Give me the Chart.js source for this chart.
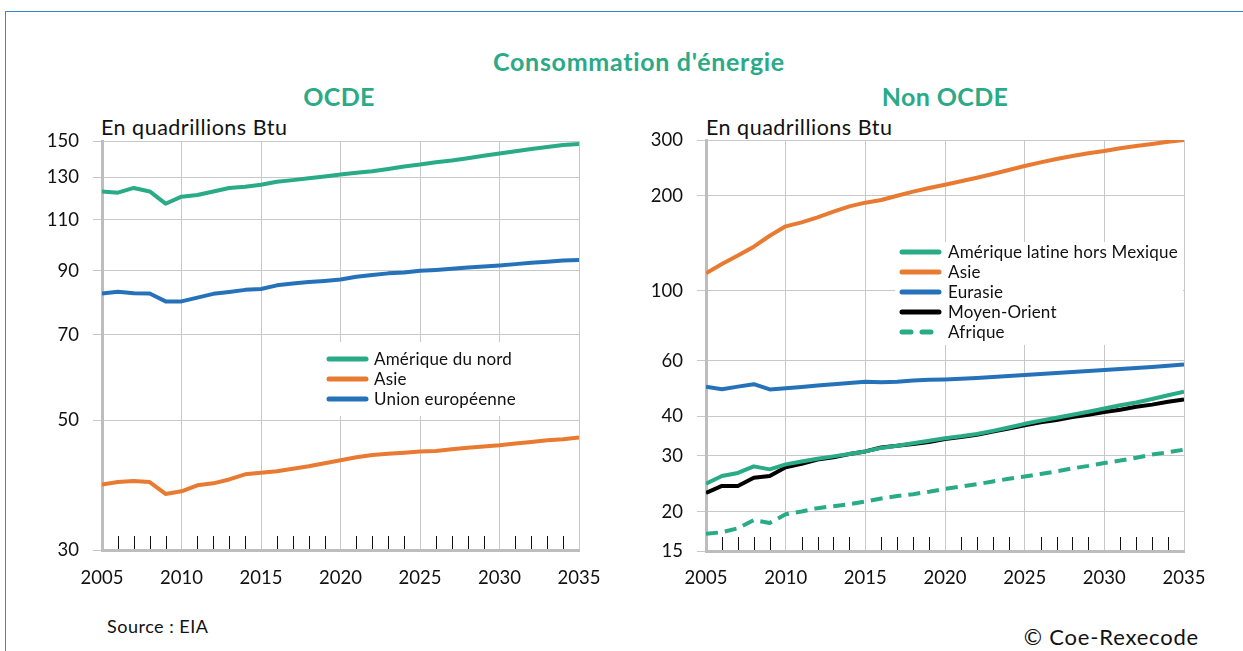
<!DOCTYPE html>
<html lang="fr">
<head>
<meta charset="utf-8">
<title>Consommation d'énergie</title>
<script src="https://cdn.jsdelivr.net/npm/chart.js@4.4.1/dist/chart.umd.min.js"></script>
<style>
  html, body { margin:0; padding:0; background:#fff; }
  body { width:1243px; height:651px; position:relative; overflow:hidden; font-family:Lato, "Open Sans", sans-serif; color:#111; }
  #frame { position:absolute; left:5px; top:11px; width:1400px; height:800px; border-top:1px solid #3a87d0; border-left:1px solid #3a87d0; }
  .t { position:absolute; white-space:nowrap; }
  .title { left:339px; width:600px; top:46px; text-align:center; font-weight:700; font-size:25px; letter-spacing:0.7px; line-height:30px; color:#2aaa86; }
  .sub { font-weight:700; font-size:25px; letter-spacing:0.4px; line-height:28px; color:#2aaa86; text-align:center; width:300px; top:82px; }
  .unit { font-size:21.5px; letter-spacing:0.5px; line-height:24px; top:115px; color:#111; }
  .src { left:107px; top:614px; font-size:18px; letter-spacing:0.5px; line-height:24px; }
  .copy { right:44px; top:624px; font-size:22px; letter-spacing:0.8px; line-height:26px; }
  canvas { position:absolute; }
</style>
</head>
<body>
<div id="frame"></div>
<div class="t title">Consommation d'énergie</div>
<div class="t sub" style="left:189px;">OCDE</div>
<div class="t sub" style="left:795px;">Non OCDE</div>
<div class="t unit" style="left:101px;">En quadrillions Btu</div>
<div class="t unit" style="left:706px;">En quadrillions Btu</div>
<div class="t src">Source : EIA</div>
<div class="t copy">© Coe-Rexecode</div>

<canvas id="c1" width="620" height="520" style="left:0px; top:100px;"></canvas>
<canvas id="c2" width="623" height="520" style="left:620px; top:100px;"></canvas>

<script>
// ---------- DATA ----------
const YEARS = [2005,2006,2007,2008,2009,2010,2011,2012,2013,2014,2015,2016,2017,2018,2019,2020,
               2021,2022,2023,2024,2025,2026,2027,2028,2029,2030,2031,2032,2033,2034,2035];

// OCDE (quadrillions Btu)
const OCDE_LABELS = ["Amérique du nord", "Asie", "Union européenne"];
const OCDE_AMERIQUE_NORD = [123.0,122.4,124.7,123.0,117.2,120.5,121.3,123.0,124.7,125.3,126.3,127.8,128.6,129.5,130.5,131.5,
                            132.4,133.2,134.4,135.7,136.7,138.0,138.9,140.2,141.5,142.8,144.1,145.4,146.5,147.7,148.3];
const OCDE_ASIE = [38.8,39.2,39.35,39.2,37.4,37.8,38.7,39.0,39.6,40.4,40.65,40.9,41.3,41.7,42.2,42.7,
                   43.2,43.6,43.8,44.0,44.2,44.3,44.6,44.85,45.1,45.3,45.6,45.9,46.2,46.4,46.7];
const OCDE_UE = [82.3,82.9,82.4,82.3,79.8,79.8,81.0,82.2,82.8,83.5,83.8,85.0,85.6,86.1,86.5,87.0,
                 87.9,88.5,89.1,89.4,90.0,90.3,90.7,91.2,91.5,91.9,92.4,92.9,93.3,93.7,93.9];
const OCDE_Y_TICKS = [30,50,70,90,110,130,150];

// Non OCDE (quadrillions Btu)
const NON_LABELS = ["Amérique latine hors Mexique", "Asie", "Eurasie", "Moyen-Orient", "Afrique"];
const NON_AMLAT = [24.5,25.9,26.5,27.8,27.2,28.2,28.8,29.4,29.9,30.4,31.0,31.8,32.3,32.9,33.5,34.1,
                   34.6,35.2,36.0,36.9,37.9,38.8,39.6,40.5,41.4,42.4,43.4,44.3,45.4,46.7,47.9];
const NON_ASIE = [113.5,121.5,129.2,137.9,149.3,159.9,164.6,170.7,177.9,184.9,190.0,193.7,199.9,205.9,211.4,216.6,
                  222.0,227.9,234.1,241.0,248.2,254.9,261.2,267.0,272.2,276.9,282.3,287.2,291.4,296.4,300.0];
const NON_EURASIE = [49.7,48.8,49.7,50.6,48.7,49.1,49.6,50.1,50.6,51.0,51.5,51.3,51.5,52.0,52.3,52.4,
                     52.6,52.9,53.3,53.7,54.1,54.5,54.85,55.3,55.7,56.1,56.5,56.9,57.4,57.9,58.4];
const NON_MO = [22.9,24.1,24.1,25.6,25.9,27.6,28.3,29.2,29.7,30.4,31.0,31.9,32.3,32.7,33.2,33.9,
                34.4,35.0,35.8,36.6,37.5,38.3,39.0,39.8,40.5,41.3,42.0,42.9,43.6,44.5,45.3];
const NON_AFRIQUE = [17.0,17.2,17.7,18.8,18.4,19.6,20.0,20.5,20.8,21.1,21.5,22.0,22.4,22.7,23.1,23.6,
                     24.0,24.4,24.9,25.4,25.8,26.3,26.8,27.4,27.9,28.5,29.0,29.6,30.3,30.8,31.4];
const NON_Y_TICKS = [15,20,30,40,60,100,200,300];

// ---------- STYLE ----------
const GREEN = '#29ab87', ORANGE = '#e97a32', BLUE = '#2672ba', BLACK = '#000000';
const GRID = '#c8c8c8', AXIS = '#bdbdbd';
const FONT = 'Lato, "Open Sans", sans-serif';

function pts(vals) { return YEARS.map((x, i) => ({ x: x, y: vals[i] })); }

function ds(label, vals, color, dash) {
  return {
    label: label, data: pts(vals), borderColor: color, backgroundColor: color,
    borderWidth: 4, pointRadius: 0, tension: 0, fill: false,
    borderDash: dash || [], borderJoinStyle: 'round', borderCapStyle: 'butt'
  };
}

// minor ticks (each year) drawn inside the plot from the x axis
const minorTicks = {
  id: 'minorTicks',
  afterDatasetsDraw(chart) {
    const ctx = chart.ctx, xs = chart.scales.x, area = chart.chartArea;
    ctx.save();
    ctx.strokeStyle = '#111'; ctx.lineWidth = 1;
    YEARS.forEach(yr => {
      if (yr % 5 === 0) return;
      const px = Math.round(xs.getPixelForValue(yr)) + 0.5;
      ctx.beginPath(); ctx.moveTo(px, area.bottom - 14); ctx.lineTo(px, area.bottom - 1); ctx.stroke();
    });
    ctx.restore();
  }
};

// legend drawn inside the plot area on a white box
const boxLegend = {
  id: 'boxLegend',
  afterDatasetsDraw(chart, args, o) {
    const ctx = chart.ctx, a = chart.chartArea;
    ctx.save();
    ctx.fillStyle = '#fff';
    ctx.fillRect(a.left + o.x, a.top + o.y, o.w, o.h);
    ctx.font = '17px ' + FONT;
    try { ctx.letterSpacing = '0.2px'; } catch (e) {}
    ctx.textBaseline = 'middle';
    chart.data.datasets.forEach((d, i) => {
      const y = a.top + o.row0 + i * o.rowH;
      ctx.strokeStyle = d.borderColor; ctx.lineWidth = 5; ctx.lineCap = 'round';
      ctx.setLineDash(d.borderDash && d.borderDash.length ? [9, 11] : []);
      ctx.beginPath(); ctx.moveTo(a.left + o.sx0, y); ctx.lineTo(a.left + o.sx1, y); ctx.stroke();
      ctx.setLineDash([]);
      ctx.fillStyle = '#111';
      ctx.fillText(d.label, a.left + o.tx, y + 1);
    });
    ctx.restore();
  }
};

function makeChart(id, datasets, ymin, ymax, yticks, yWidth, xHeight, pad, xPad, legendOpts) {
  return new Chart(document.getElementById(id), {
    type: 'line',
    data: { datasets: datasets },
    plugins: [minorTicks, boxLegend],
    options: {
      responsive: false, animation: false, devicePixelRatio: 1,
      layout: { padding: pad },
      plugins: { legend: { display: false }, tooltip: { enabled: false }, boxLegend: legendOpts },
      scales: {
        x: {
          type: 'linear', min: 2005, max: 2035,
          afterFit: s => { s.height = xHeight; },
          ticks: { stepSize: 5, callback: v => String(v), font: { family: FONT, size: 18.5 }, color: '#111', padding: xPad, maxRotation: 0 },
          grid: { color: GRID, lineWidth: 1, drawTicks: false },
          border: { color: AXIS, width: 3 }
        },
        y: {
          type: 'logarithmic', min: ymin, max: ymax,
          afterBuildTicks: s => { s.ticks = yticks.map(v => ({ value: v })); },
          afterFit: s => { s.width = yWidth; },
          ticks: { callback: v => String(v), font: { family: FONT, size: 18.5 }, color: '#111', padding: 14, autoSkip: false },
          grid: { color: GRID, lineWidth: 1, drawTicks: true, tickLength: 9 },
          border: { color: AXIS, width: 3 }
        }
      }
    }
  });
}

makeChart('c1', [
  ds(OCDE_LABELS[0], OCDE_AMERIQUE_NORD, GREEN),
  ds(OCDE_LABELS[1], OCDE_ASIE, ORANGE),
  ds(OCDE_LABELS[2], OCDE_UE, BLUE)
], 30, 150, OCDE_Y_TICKS, 102, 70, { left: 0, top: 41, right: 41, bottom: 0 }, 17,
  { x: 218, y: 201, w: 240, h: 74, row0: 218, rowH: 20, sx0: 227, sx1: 264, tx: 272 });

makeChart('c2', [
  ds(NON_LABELS[0], NON_AMLAT, GREEN),
  ds(NON_LABELS[1], NON_ASIE, ORANGE),
  ds(NON_LABELS[2], NON_EURASIE, BLUE),
  ds(NON_LABELS[3], NON_MO, BLACK),
  ds(NON_LABELS[4], NON_AFRIQUE, GREEN, [12, 7])
], 15, 300, NON_Y_TICKS, 86, 69, { left: 0, top: 40, right: 59, bottom: 0 }, 16,
  { x: 189, y: 102, w: 288, h: 103, row0: 112, rowH: 20, sx0: 196, sx1: 233, tx: 242 });
</script>
</body>
</html>
